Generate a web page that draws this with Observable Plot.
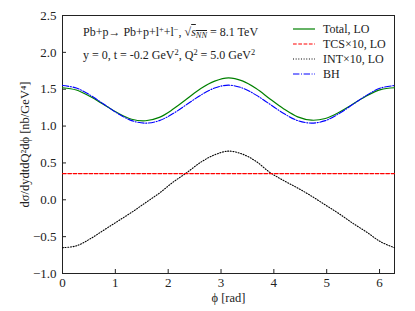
<!DOCTYPE html>
<html><head><meta charset="utf-8">
<script src="https://cdn.jsdelivr.net/npm/d3@7"></script>
<script src="https://cdn.jsdelivr.net/npm/@observablehq/plot@0.6"></script>
<style>
body{margin:0;background:#fff;}
#wrap{position:relative;width:415px;height:311px;font-family:'Liberation Serif';}
.ann{position:absolute;font-size:12px;color:#222;white-space:nowrap;font-family:'Liberation Serif';}
.ov{text-decoration:overline;}
sub{font-size:70%;font-style:italic;vertical-align:-2px;}
sup{font-size:70%;vertical-align:4px;line-height:0;}
svg text{font-family:'Liberation Serif';}
</style></head>
<body><div id="wrap"></div>
<script>
const phiIdx = d3.range(25); // phi = k*pi/12
const phi = phiIdx.map(k => k * Math.PI / 12);
const bh = [1.55,1.516,1.42,1.295,1.17,1.074,1.04,1.074,1.17,1.295,1.42,1.516,1.555,1.516,1.42,1.295,1.17,1.074,1.04,1.074,1.17,1.295,1.42,1.516,1.55];
const int10 = [-0.65,-0.625,-0.53,-0.41,-0.29,-0.17,-0.04,0.09,0.24,0.37,0.51,0.61,0.66,0.62,0.52,0.37,0.26,0.16,0.05,-0.07,-0.19,-0.32,-0.44,-0.57,-0.65];
const total = [1.52,1.489,1.40,1.29,1.177,1.093,1.072,1.118,1.23,1.37,1.51,1.61,1.655,1.613,1.51,1.368,1.232,1.125,1.08,1.103,1.187,1.299,1.412,1.495,1.52];
const tcs10 = [0.355,0.355];
const tcsPhi = [0, 2*Math.PI];
const yTicks = [-1.0,-0.5,0.0,0.5,1.0,1.5,2.0,2.5];
const xTicks = [0,1,2,3,4,5,6];
const legendLabels = ["Total, LO","TCS×10, LO","INT×10, LO","BH"];
const legendColors = ["#008000","#ff0000","#000000","#0000ff"];
const legendDash = [null,"3.7,1.6","1,1.65","6.4,1.6,1,1.6"];

const rows = s => phi.map((p,i)=>({phi:p, v:s[i]}));
const fmt = d => (d<0?"\u2212":"") + Math.abs(d).toFixed(1);

const chart = Plot.plot({
  width: 415, height: 311,
  marginLeft: 62, marginRight: 21, marginTop: 15, marginBottom: 38,
  style: {fontFamily: "'Liberation Serif'", fontSize: "13px", color: "#222", background: "#fff"},
  x: {domain: [0, 2*Math.PI]},
  y: {domain: [-1.0, 2.5]},
  marks: [
    Plot.frame({stroke: "#222", strokeWidth: 1}),
    Plot.axisY(yTicks, {tickSize: -4, tickPadding: 10, tickFormat: fmt, fontSize: 13,
      label: "dσ/dydtdQ²dϕ [nb/GeV⁴]", labelAnchor: "center", labelOffset: 42, labelArrow: "none"}),
    Plot.axisX(xTicks, {tickSize: -4, tickPadding: 8, tickFormat: d => String(d), fontSize: 13,
      label: "ϕ [rad]", labelAnchor: "center", labelOffset: 28, labelArrow: "none"}),
    Plot.line(rows(int10), {x:"phi", y:"v", stroke: legendColors[2], strokeWidth: 1.1, strokeDasharray: legendDash[2], curve: "catmull-rom"}),
    Plot.line(tcsPhi.map((p,i)=>({phi:p, v:tcs10[i]})), {x:"phi", y:"v", stroke: legendColors[1], strokeWidth: 1.1, strokeDasharray: legendDash[1]}),
    Plot.line(rows(total), {x:"phi", y:"v", stroke: legendColors[0], strokeWidth: 1.2, curve: "catmull-rom"}),
    Plot.line(rows(bh), {x:"phi", y:"v", stroke: legendColors[3], strokeWidth: 1.1, strokeDasharray: legendDash[3], curve: "catmull-rom"})
  ]
});
const wrap = document.getElementById("wrap");
wrap.appendChild(chart);
d3.select(chart).selectAll("[aria-label='y-axis label'] text, [aria-label='x-axis label'] text").style("font-size","12.5px");

// annotations
const a1 = document.createElement("div");
a1.className = "ann"; a1.style.left = "83px"; a1.style.top = "25px";
a1.innerHTML = 'Pb+p\u2192 Pb+p+l<sup>+</sup>+l<sup>\u2212</sup>, \u221A<span class="ov"><i>s</i><sub>NN</sub></span> = 8.1 TeV';
wrap.appendChild(a1);
const a2 = document.createElement("div");
a2.className = "ann"; a2.style.left = "83px"; a2.style.top = "48px";
a2.innerHTML = 'y = 0, t = -0.2 GeV<sup>2</sup>, Q<sup>2</sup> = 5.0 GeV<sup>2</sup>';
wrap.appendChild(a2);

// legend overlay
const leg = d3.select(wrap).append("svg")
  .attr("width", 110).attr("height", 70)
  .style("position","absolute").style("left","290px").style("top","20px")
  .style("font-family","'Liberation Serif'").style("font-size","12px");
legendLabels.forEach((lab,i)=>{
  const g = leg.append("g").attr("transform",`translate(0,${9+i*15})`);
  g.append("line").attr("x1",3).attr("x2",25).attr("y1",0).attr("y2",0)
    .attr("stroke",legendColors[i]).attr("stroke-width",1.2)
    .attr("stroke-dasharray",legendDash[i]);
  g.append("text").attr("x",33).attr("y",4).attr("fill","#222").text(lab);
});
</script></body></html>
